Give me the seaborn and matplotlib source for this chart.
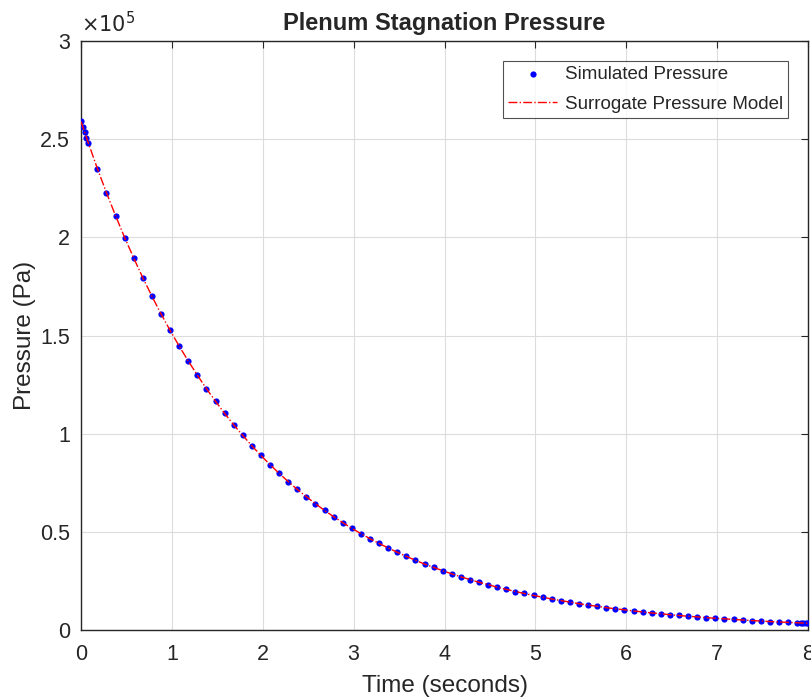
import numpy as np
import pandas as pd
import matplotlib
matplotlib.use("Agg")
import matplotlib.pyplot as plt
import seaborn as sns
from matplotlib.ticker import FuncFormatter, MultipleLocator

# Data (time in s, pressure in 1e5 Pa)
time_s = [0.00, 0.02, 0.04, 0.06, 0.08, 0.18, 0.28, 0.38, 0.48, 0.58,
          0.68, 0.78, 0.88, 0.98, 1.08, 1.18, 1.28, 1.38, 1.48, 1.58,
          1.68, 1.78, 1.88, 1.98, 2.08, 2.18, 2.28, 2.38, 2.48, 2.58,
          2.68, 2.78, 2.88, 2.98, 3.08, 3.18, 3.28, 3.38, 3.48, 3.58,
          3.68, 3.78, 3.88, 3.98, 4.08, 4.18, 4.28, 4.38, 4.48, 4.58,
          4.68, 4.78, 4.88, 4.98, 5.08, 5.18, 5.28, 5.38, 5.48, 5.58,
          5.68, 5.78, 5.88, 5.98, 6.08, 6.18, 6.28, 6.38, 6.48, 6.58,
          6.68, 6.78, 6.88, 6.98, 7.08, 7.18, 7.28, 7.38, 7.48, 7.58,
          7.68, 7.78, 7.88, 7.92, 7.95, 7.98, 8.00]
pressure_e5 = [2.590, 2.562, 2.535, 2.508, 2.481, 2.350, 2.227, 2.110, 1.999, 1.894,
               1.794, 1.700, 1.610, 1.526, 1.446, 1.370, 1.298, 1.229, 1.165, 1.103,
               1.045, 0.991, 0.938, 0.889, 0.842, 0.798, 0.756, 0.716, 0.679, 0.643,
               0.609, 0.577, 0.547, 0.518, 0.491, 0.465, 0.441, 0.418, 0.396, 0.375,
               0.355, 0.336, 0.319, 0.302, 0.286, 0.271, 0.257, 0.243, 0.231, 0.218,
               0.207, 0.196, 0.186, 0.176, 0.167, 0.158, 0.150, 0.142, 0.134, 0.127,
               0.121, 0.114, 0.108, 0.103, 0.097, 0.092, 0.087, 0.083, 0.078, 0.074,
               0.070, 0.067, 0.063, 0.060, 0.057, 0.054, 0.051, 0.048, 0.046, 0.043,
               0.041, 0.039, 0.037, 0.036, 0.0355, 0.0349, 0.0345]

df = pd.DataFrame({"time": time_s, "pressure": np.array(pressure_e5) * 1e5})

sns.set_style("white")
plt.rcParams['font.family'] = ['Liberation Sans', 'DejaVu Sans']

fig = plt.figure(figsize=(8.12, 6.97), dpi=100)
ax = fig.add_axes([0.0998, 0.0961, 0.8953, 0.8451])

# simulated points and surrogate model
sns.scatterplot(data=df, x="time", y="pressure", ax=ax, color="#0000ff",
                s=20, linewidth=0, marker="o", label="Simulated Pressure", zorder=3)
sns.lineplot(data=df, x="time", y="pressure", ax=ax, color="#ff0000",
             linestyle="-.", linewidth=1.0, label="Surrogate Pressure Model", zorder=4)

ax.set_xlim(0, 8)
ax.set_ylim(0, 3e5)
ax.xaxis.set_major_locator(MultipleLocator(1))
ax.yaxis.set_major_locator(MultipleLocator(0.5e5))
ax.yaxis.set_major_formatter(FuncFormatter(lambda v, p: "%g" % (v / 1e5)))

ax.grid(True, color="#dcdcdc", linewidth=0.8)
ax.set_axisbelow(True)
for sp in ax.spines.values():
    sp.set_color("#262626")
    sp.set_linewidth(1.0)
ax.tick_params(direction="in", length=5, width=0.8, color="#262626",
               top=True, right=True, labelsize=15.5, labelcolor="#262626")
ax.tick_params(axis="x", pad=10)
ax.tick_params(axis="y", pad=8)

ax.set_xlabel("Time (seconds)", fontsize=17.5, color="#262626", labelpad=7)
ax.set_ylabel("Pressure (Pa)", fontsize=17.5, color="#262626", labelpad=3)
ax.set_title("Plenum Stagnation Pressure", fontsize=17, fontweight="bold", pad=8)
ax.text(0.0, 1.008, r"$\times10^5$", transform=ax.transAxes, fontsize=15,
        color="#262626", ha="left", va="bottom", math_fontfamily="dejavusans")

leg = ax.legend(loc="upper right", fontsize=13.5, frameon=True, fancybox=False,
                edgecolor="#262626", borderaxespad=1.09, handlelength=2.6,
                markerscale=1.0, borderpad=0.26, labelspacing=0.66,
                handletextpad=0.4)
leg.get_frame().set_linewidth(0.8)

fig.savefig("out.png", dpi=100)
